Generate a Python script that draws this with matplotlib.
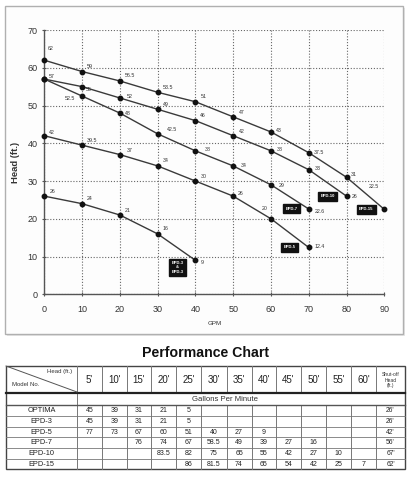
import matplotlib
matplotlib.use("Agg")
import matplotlib.pyplot as plt
from matplotlib.patches import Rectangle

plt.rcParams['font.family'] = ['Liberation Sans', 'DejaVu Sans']

# ---------------- data ----------------
gpm_15 = [0, 10, 20, 30, 40, 50, 60, 70, 80, 90]
head_15 = [62, 59, 56.5, 53.5, 51, 47, 43, 37.5, 31, 22.5]
gpm_10 = [0, 10, 20, 30, 40, 50, 60, 70, 80]
head_10 = [57, 55, 52, 49, 46, 42, 38, 33, 26]
gpm_7 = [0, 10, 20, 30, 40, 50, 60, 70]
head_7 = [57, 52.5, 48, 42.5, 38, 34, 29, 22.6]
gpm_5 = [0, 10, 20, 30, 40, 50, 60, 70]
head_5 = [42, 39.5, 37, 34, 30, 26, 20, 12.4]
gpm_3 = [0, 10, 20, 30, 40]
head_3 = [26, 24, 21, 16, 9]
curve_names = ['EPD-15', 'EPD-10', 'EPD-7', 'EPD-5', 'EPD-3\n&\nEPD-3']

x_ticks = [0, 10, 20, 30, 40, 50, 60, 70, 80, 90]
y_ticks = [0, 10, 20, 30, 40, 50, 60, 70]

head_cols = ["5'", "10'", "15'", "20'", "25'", "30'", "35'", "40'", "45'", "50'", "55'", "60'"]
models = ['OPTIMA', 'EPD-3', 'EPD-5', 'EPD-7', 'EPD-10', 'EPD-15']
row_optima = ['45', '39', '31', '21', '5', '', '', '', '', '', '', '']
row_epd3 = ['45', '39', '31', '21', '5', '', '', '', '', '', '', '']
row_epd5 = ['77', '73', '67', '60', '51', '40', '27', '9', '', '', '', '']
row_epd7 = ['', '', '76', '74', '67', '58.5', '49', '39', '27', '16', '', '']
row_epd10 = ['', '', '', '83.5', '82', '75', '65', '55', '42', '27', '10', '']
row_epd15 = ['', '', '', '', '86', '81.5', '74', '65', '54', '42', '25', '7']
shutoff = ["26'", "26'", "42'", "56'", "67'", "62'"]

# ---------------- figure ----------------
W, H = 415, 483
fig = plt.figure(figsize=(W / 100, H / 100), dpi=100)
fig.patch.set_facecolor('white')

# overlay axes in pixel coordinates (frame + table)
ov = fig.add_axes([0, 0, 1, 1], zorder=0)
ov.set_xlim(0, W)
ov.set_ylim(H, 0)
ov.axis('off')
ov.patch.set_alpha(0)

# chart panel frame
ov.add_patch(Rectangle((7, 8), 398, 328, fc='#e6e6e6', ec='none'))
ov.add_patch(Rectangle((5, 6), 398, 328, fc='#fdfdfd', ec='#b0b0b0', lw=1.0))

# ---------------- chart ----------------
ax = fig.add_axes([44.3 / W, 1 - 294.3 / H, 340 / W, 264.3 / H], zorder=2)
ax.patch.set_alpha(0)
ax.set_xlim(0, 90)
ax.set_ylim(0, 70)
ax.set_xticks(x_ticks)
ax.set_yticks(y_ticks)
ax.grid(True, linestyle=(0, (1, 1.6)), color='#666666', lw=0.8)
ax.set_axisbelow(True)
for s in ['top', 'right']:
    ax.spines[s].set_visible(False)
for s in ['left', 'bottom']:
    ax.spines[s].set_color('#555555')
    ax.spines[s].set_linewidth(1.0)
ax.tick_params(axis='both', direction='inout', length=3, width=0.8, color='#555555',
               labelsize=6.5, labelcolor='#333333')
ax.tick_params(axis='x', pad=6)
ax.tick_params(axis='y', pad=3.5)
ax.set_xlabel('GPM', fontsize=4.5, color='#333333', labelpad=5)
ax.set_ylabel('Head (ft.)', fontsize=6.8, fontweight='bold', color='#333333', labelpad=5)

series = [(gpm_15, head_15), (gpm_10, head_10), (gpm_7, head_7), (gpm_5, head_5), (gpm_3, head_3)]

# label offsets in pixels (dx, dy up), ha ; defaults + overrides
default_off = (5, 5, 'left')
overrides = {
    (0, 0): (3, 12, 'left'),
    (0, 9): (-10, 23, 'center'),
    (0, 8): (4, 3, 'left'),
    (0, 7): (5, 0, 'left'),
    (0, 6): (5, 1, 'left'),
    (0, 5): (6, 4, 'left'),
    (1, 0): (4, 3, 'left'),
    (1, 1): (4, -3, 'left'),
    (1, 2): (7, 1, 'left'),
    (1, 5): (6, 4, 'left'),
    (1, 6): (6, 1, 'left'),
    (1, 7): (6, 1, 'left'),
    (1, 8): (5, 0, 'left'),
    (2, 1): (-7, -2, 'right'),
    (2, 2): (5, 0, 'left'),
    (2, 3): (9, 4, 'left'),
    (2, 4): (9, 1, 'left'),
    (2, 5): (8, 0, 'left'),
    (2, 6): (8, -1, 'left'),
    (2, 7): (6, -3, 'left'),
    (3, 0): (5, 3, 'left'),
    (3, 2): (7, 4, 'left'),
    (3, 5): (5, 3, 'left'),
    (3, 6): (-6, 10, 'center'),
    (3, 7): (6, 1, 'left'),
    (4, 4): (5, -2, 'left'),
}
# shared shut-off point is labelled only once
skip_labels = {(2, 0)}
box_offsets = [(-18, 0), (-19, 0), (-17, 0), (-19, 0), (-18, -7)]

for i, ((xs, ys), name) in enumerate(zip(series, curve_names)):
    ax.plot(xs, ys, color='#3a3a3a', lw=1.0, marker='o', ms=3.2,
            mfc='#111111', mec='#111111', clip_on=False, zorder=3)
    for j, (xv, yv) in enumerate(zip(xs, ys)):
        if (i, j) in skip_labels:
            continue
        dx, dy, ha = overrides.get((i, j), default_off)
        ax.annotate(f"{yv:g}", (xv, yv), xytext=(dx, dy), textcoords='offset pixels',
                    fontsize=3.8, color='#333333', ha=ha, va='center', zorder=4)
    bx, by = box_offsets[i]
    ax.annotate(name, (xs[-1], ys[-1]), xytext=(bx, by), textcoords='offset pixels',
                fontsize=3.0, color='white', fontweight='bold', ha='center', va='center',
                linespacing=1.1, zorder=5,
                bbox=dict(boxstyle='square,pad=0.6', fc='#111111', ec='#111111'))

# ---------------- performance chart table ----------------
ov.text(205, 353, 'Performance Chart', fontsize=10.2, fontweight='bold',
        ha='center', va='center', color='#111111')

col_edges = [6, 77, 102, 126.5, 151, 176, 201, 226.5, 251.5, 276, 301, 326, 351, 376, 405]
top, hdr_bot, gal_top = 366, 392, 394
row_edges = [405.3, 416, 426.7, 437.3, 448, 458.7, 469.3]
bottom = row_edges[-1]
line_c = '#777777'

# outer border
ov.add_patch(Rectangle((col_edges[0], top), col_edges[-1] - col_edges[0], bottom - top,
                       fc='white', ec='#444444', lw=1.0, zorder=1))
# verticals
for k, xe in enumerate(col_edges[1:-1], start=1):
    ov.plot([xe, xe], [top, hdr_bot], color=line_c, lw=0.7, zorder=2)
    ov.plot([xe, xe], [row_edges[0], bottom], color=line_c, lw=0.7, zorder=2)
ov.plot([col_edges[1]] * 2, [gal_top, row_edges[0]], color=line_c, lw=0.7, zorder=2)
# horizontals
ov.plot([col_edges[0], col_edges[-1]], [hdr_bot + 1.2] * 2, color='#222222', lw=1.6, zorder=2)
ov.plot([col_edges[0], col_edges[-1]], [row_edges[0]] * 2, color='#555555', lw=1.0, zorder=2)
for ye in row_edges[1:-1]:
    ov.plot([col_edges[0], col_edges[-1]], [ye, ye], color=line_c, lw=0.6, zorder=2)
# diagonal in corner cell
ov.plot([col_edges[0], col_edges[1]], [top, hdr_bot], color='#555555', lw=0.7, zorder=2)

ov.text(72, 372, 'Head (ft.)', fontsize=4.3, ha='right', va='center', color='#333333', zorder=3)
ov.text(12, 385, 'Model No.', fontsize=4.3, ha='left', va='center', color='#333333', zorder=3)

hdr_y = (top + hdr_bot) / 2 + 1
for k, lab in enumerate(head_cols):
    cx = (col_edges[k + 1] + col_edges[k + 2]) / 2
    ov.text(cx, hdr_y, lab, fontsize=7, ha='center', va='center', color='#222222', zorder=3)
ov.text((col_edges[-2] + col_edges[-1]) / 2, hdr_y, "Shut-off\nHead\n(ft.)", fontsize=3.6,
        ha='center', va='center', linespacing=1.0, color='#333333', zorder=3)
ov.text(225, (gal_top + row_edges[0]) / 2, 'Gallons Per Minute', fontsize=5.6,
        ha='center', va='center', color='#333333', zorder=3)

rows = [row_optima, row_epd3, row_epd5, row_epd7, row_epd10, row_epd15]
for r, (mname, vals, so) in enumerate(zip(models, rows, shutoff)):
    cy = (row_edges[r] + row_edges[r + 1]) / 2
    ov.text((col_edges[0] + col_edges[1]) / 2, cy, mname, fontsize=5.3, ha='center', va='center',
            color='#222222', zorder=3)
    for k, v in enumerate(vals):
        if v:
            cx = (col_edges[k + 1] + col_edges[k + 2]) / 2
            ov.text(cx, cy, v, fontsize=5.0, ha='center', va='center', color='#222222', zorder=3)
    ov.text((col_edges[-2] + col_edges[-1]) / 2, cy, so, fontsize=4.8, ha='center', va='center',
            color='#222222', zorder=3)

fig.savefig('out.png', dpi=100)
